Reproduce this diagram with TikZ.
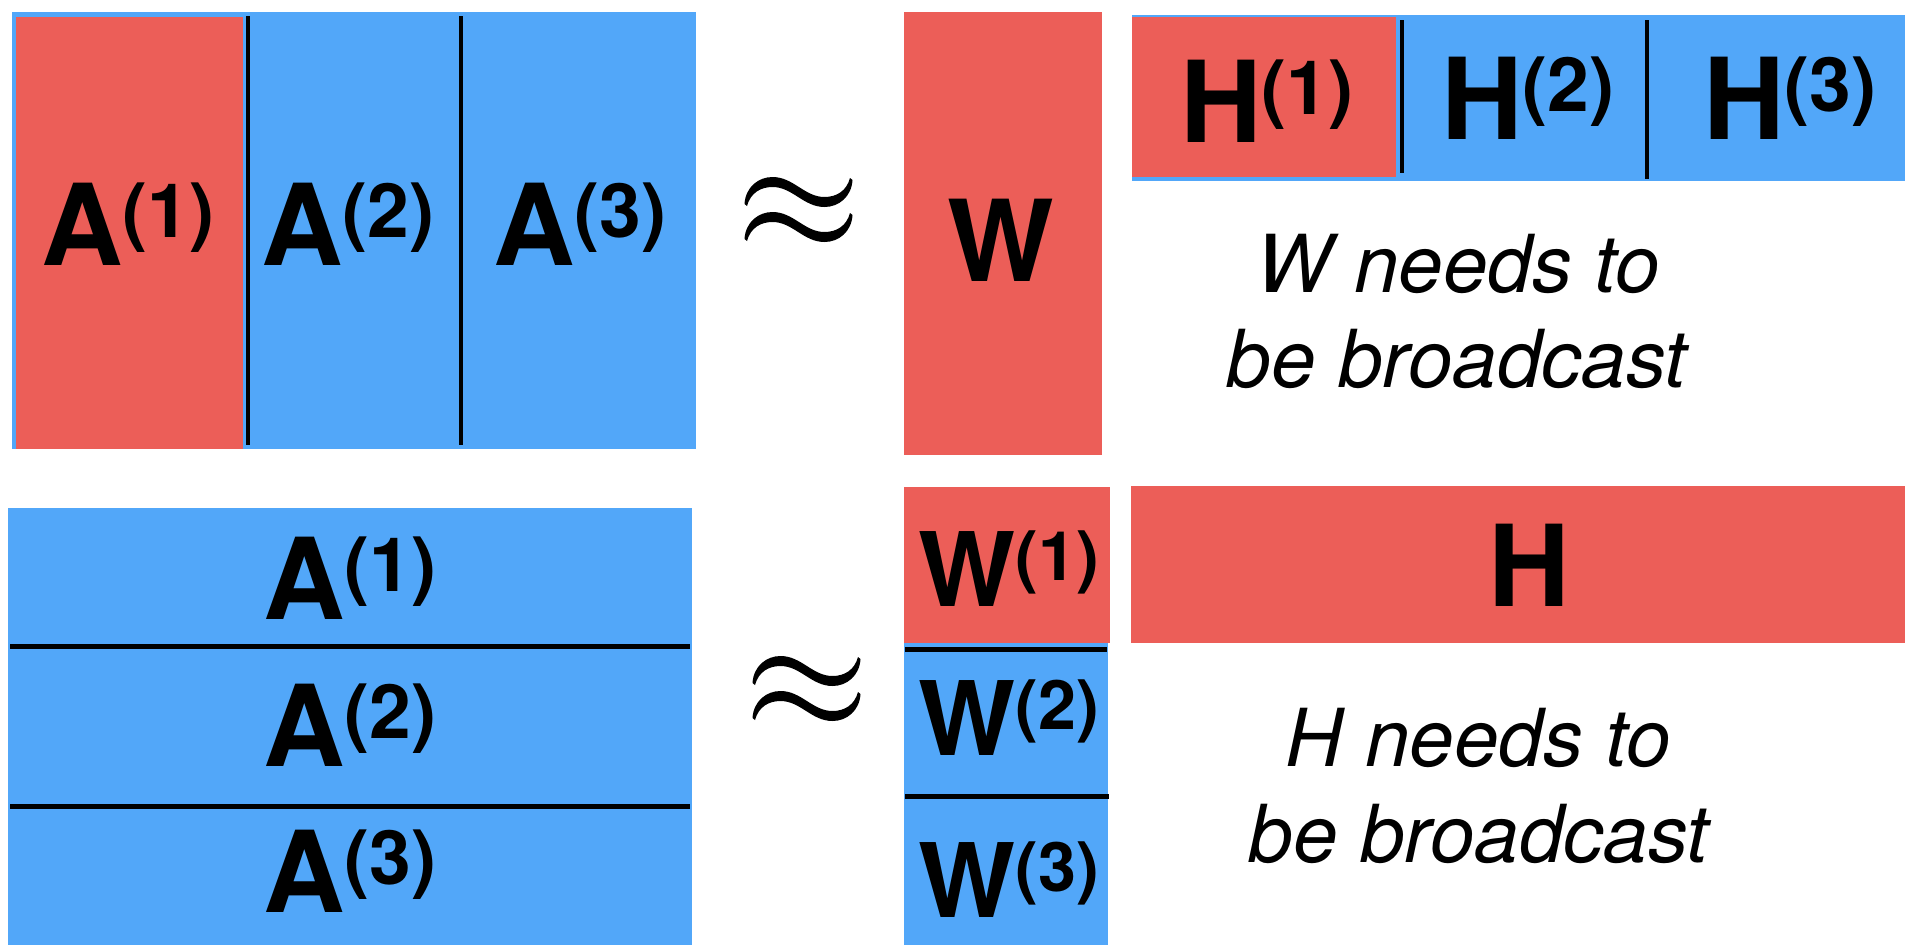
\documentclass[tikz,border=0pt]{standalone}
\usepackage{fontspec}
\setmainfont{TeX Gyre Heros}
\usepackage{graphicx}
\definecolor{mred}{RGB}{236,94,88}
\definecolor{mblue}{RGB}{82,167,249}
% bold block label with a raised, bracketed index
\newcommand{\blk}[2]{{\fontsize{113}{113}\selectfont\bfseries #1}\raisebox{28pt}{\fontsize{75}{75}\selectfont\bfseries(#2)}}
\tikzset{
  lbl/.style={inner sep=0pt, anchor=base},
  note/.style={inner sep=0pt, anchor=base, font=\fontsize{80}{80}\selectfont\itshape},
  divider/.style={line width=4.5pt, black},
  % one tapered tilde stroke
  wave/.pic={
    \fill (-54,12) .. controls (-53,-5) and (-40,-15) .. (-26,-15)
      .. controls (-5,-15) and (6,5) .. (26,5)
      .. controls (38,5) and (48,-1) .. (51.5,-14) -- (54,-12)
      .. controls (53,5) and (40,15) .. (26,15)
      .. controls (5,15) and (-6,-5) .. (-26,-5)
      .. controls (-38,-5) and (-48,1) .. (-51.5,14) -- cycle;
  },
  % the "approximately equal" sign: two stacked tildes
  approxsign/.pic={
    \pic at (0,-17.5) {wave};
    \pic at (0,17.5) {wave};
  }
}
\begin{document}
\begin{tikzpicture}[x=1pt,y=-1pt]
\useasboundingbox (0,0) rectangle (1905,945);
% ---- column partition of A, W broadcast ----
\fill[mblue] (12,12) rectangle (696,449);
\fill[mred] (16,17) rectangle (243,449);
\draw[divider] (248,16) -- (248,445);
\draw[divider] (461,16) -- (461,445);
\node[lbl] (a1) at (128,265) {\blk{A}{1}};
\node[lbl] (a2) at (348,265) {\blk{A}{2}};
\node[lbl] (a3) at (580,265) {\blk{A}{3}};
\pic (ap1) at (798.5,209.5) {approxsign};
\fill[mred] (904,12) rectangle (1102,455);
\node[lbl] (w) at (1001,281) {\fontsize{113}{113}\selectfont\bfseries W};
\fill[mblue] (1132,15) rectangle (1905,181);
\fill[mred] (1132,17) rectangle (1396,177);
\draw[divider] (1402,20) -- (1402,173);
\draw[divider] (1647,20) -- (1647,179);
\node[lbl] (h1) at (1267,142) {\blk{H}{1}};
\node[lbl] (h2) at (1528,139) {\blk{H}{2}};
\node[lbl] (h3) at (1790,139) {\blk{H}{3}};
\node[note] (wn1) at (1458,292) {W needs to};
\node[note] (wn2) at (1457,387) {be broadcast};
% ---- row partition of A, H broadcast ----
\fill[mblue] (8,508) rectangle (692,945);
\draw[divider] (10,646.5) -- (690,646.5);
\draw[divider] (10,806.5) -- (690,806.5);
\node[lbl] (b1) at (350,619) {\blk{A}{1}};
\node[lbl] (b2) at (350,766) {\blk{A}{2}};
\node[lbl] (b3) at (350,912) {\blk{A}{3}};
\pic (ap2) at (806.5,688.5) {approxsign};
\fill[mred] (904,487) rectangle (1110,643);
\fill[mblue] (904,643) rectangle (1108,945);
\draw[divider] (905,649.5) -- (1107,649.5);
\draw[divider] (905,796.5) -- (1109,796.5);
\node[lbl] (v1) at (1009,606) {\scalebox{0.91}{\blk{W}{1}}};
\node[lbl] (v2) at (1009,755) {\scalebox{0.91}{\blk{W}{2}}};
\node[lbl] (v3) at (1009,917) {\scalebox{0.91}{\blk{W}{3}}};
\fill[mred] (1131,486) rectangle (1905,643);
\node[lbl] (hh) at (1529,606) {\fontsize{113}{113}\selectfont\bfseries H};
\node[note] (hn1) at (1478,766) {H needs to};
\node[note] (hn2) at (1479,862) {be broadcast};
\end{tikzpicture}
\end{document}
